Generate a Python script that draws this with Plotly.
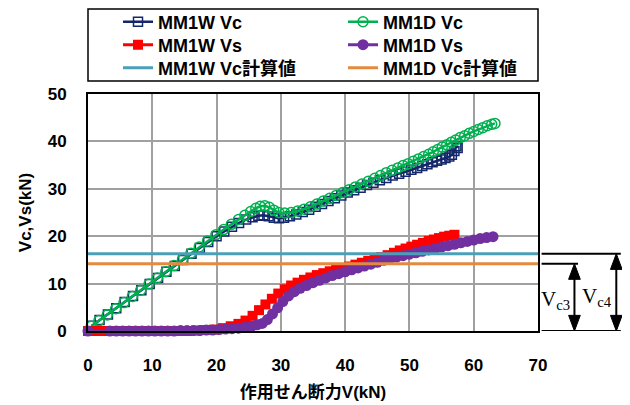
import plotly.graph_objects as go

# ---------------- data ----------------
w_vc_x = [0.6, 1.8, 3.1, 4.4, 5.7, 7.0, 8.3, 9.6, 10.9, 12.2, 13.5, 14.8, 16.1, 17.4, 18.7, 20.0,
          21.2, 22.4, 23.5, 24.6, 25.6, 26.5, 27.3, 28.1, 28.9, 29.7, 30.5, 31.4, 32.4, 33.4, 34.4,
          35.4, 36.4, 37.4, 38.4, 39.4, 40.4, 41.4, 42.4, 43.4, 44.4, 45.4, 46.4, 47.4, 48.4, 49.4,
          50.3, 51.2, 52.0, 52.8, 53.6, 54.3, 55.0, 55.6, 56.2, 56.6, 57.0, 57.3, 57.5]
w_vc_y = [1.1, 2.3, 3.5, 4.8, 6.1, 7.4, 8.6, 9.9, 11.2, 12.5, 13.7, 15.0, 16.3, 17.5, 18.8, 20.0,
          21.0, 22.0, 22.8, 23.5, 24.0, 24.3, 24.4, 24.2, 23.9, 23.8, 23.9, 24.2, 24.6, 25.1, 25.6,
          26.2, 26.8, 27.4, 28.0, 28.6, 29.2, 29.7, 30.2, 30.8, 31.3, 31.8, 32.3, 32.8, 33.2, 33.6,
          34.0, 34.4, 34.8, 35.2, 35.6, 35.9, 36.2, 36.5, 36.8, 37.2, 38.0, 39.0, 38.6]

d_vc_x = [0.5, 1.7, 3.0, 4.3, 5.6, 6.9, 8.2, 9.5, 10.8, 12.1, 13.4, 14.7, 16.0, 17.3, 18.6, 19.9,
          21.1, 22.3, 23.4, 24.4, 25.3, 26.1, 26.8, 27.5, 28.2, 28.9, 29.7, 30.6, 31.6, 32.6, 33.6,
          34.6, 35.6, 36.6, 37.6, 38.6, 39.6, 40.6, 41.6, 42.6, 43.6, 44.6, 45.5, 46.4, 47.3, 48.2,
          49.0, 49.8, 50.6, 51.4, 52.2, 53.0, 53.7, 54.4, 55.1, 55.8, 56.5, 57.2, 57.9, 58.6, 59.3,
          60.0, 60.7, 61.4, 62.1, 62.8, 63.3]
d_vc_y = [1.0, 2.2, 3.4, 4.7, 6.0, 7.3, 8.6, 9.9, 11.2, 12.5, 13.8, 15.1, 16.4, 17.7, 19.0, 20.3,
          21.4, 22.5, 23.5, 24.4, 25.2, 25.9, 26.3, 26.4, 26.1, 25.5, 25.0, 24.9, 25.0, 25.3, 25.7,
          26.2, 26.8, 27.4, 28.0, 28.6, 29.2, 29.8, 30.4, 31.0, 31.6, 32.2, 32.8, 33.4, 33.9, 34.4,
          34.9, 35.3, 35.8, 36.3, 36.8, 37.3, 37.8, 38.3, 38.8, 39.3, 39.8, 40.3, 40.8, 41.2, 41.7,
          42.1, 42.5, 42.9, 43.3, 43.6, 43.8]

w_vs_x = [0.0, 1.4, 2.8, 4.2, 5.6, 7.0, 8.4, 9.8, 11.2, 12.6, 14.0, 15.4, 16.8, 18.2, 19.6, 21.0,
          22.2, 23.4, 24.5, 25.6, 26.6, 27.6, 28.6, 29.6, 30.6, 31.6, 32.6, 33.6, 34.6, 35.6, 36.6,
          37.6, 38.6, 39.6, 40.6, 41.6, 42.6, 43.6, 44.6, 45.6, 46.6, 47.6, 48.5, 49.4, 50.3, 51.2,
          52.1, 53.0, 53.8, 54.6, 55.4, 56.2, 57.0]
w_vs_y = [0.0, 0.0, 0.0, 0.0, 0.0, 0.0, 0.0, 0.0, 0.0, 0.0, 0.0, 0.0, 0.1, 0.2, 0.3, 0.6,
          1.0, 1.5, 2.2, 3.2, 4.4, 5.6, 6.8, 7.9, 8.8, 9.6, 10.2, 10.8, 11.3, 11.8, 12.2,
          12.6, 12.9, 13.3, 13.6, 14.0, 14.4, 14.8, 15.2, 15.6, 16.0, 16.5, 17.0, 17.4, 17.8, 18.2,
          18.6, 19.0, 19.3, 19.6, 19.9, 20.1, 20.3]

d_vs_x = [0.0, 3.4, 4.4, 5.4, 6.4, 7.4, 8.4, 9.4, 10.4, 11.4, 12.4, 13.4, 14.4, 15.4, 16.4, 17.4,
          18.4, 19.4, 20.4, 21.4, 22.4, 23.4, 24.4, 25.4, 26.3, 27.1, 27.9, 28.7, 29.5, 30.3, 31.2,
          32.1, 33.0, 34.0, 35.0, 36.0, 37.0, 38.0, 39.0, 40.0, 41.0, 42.0, 43.0, 44.0, 45.0, 46.0,
          47.0, 48.0, 49.0, 50.0, 51.0, 52.0, 53.0, 54.0, 55.0, 56.0, 57.0, 58.0, 59.0, 60.0, 61.0,
          62.0, 63.0]
d_vs_y = [0.0, 0.0, 0.0, 0.0, 0.0, 0.0, 0.0, 0.0, 0.0, 0.0, 0.0, 0.0, 0.1, 0.1, 0.1, 0.1,
          0.2, 0.2, 0.3, 0.4, 0.5, 0.6, 0.8, 1.0, 1.3, 1.6, 2.4, 3.6, 4.9, 6.2, 7.4,
          8.3, 9.0, 9.6, 10.2, 10.7, 11.2, 11.7, 12.1, 12.5, 12.9, 13.3, 13.7, 14.1, 14.5, 14.9,
          15.3, 15.6, 15.9, 16.2, 16.5, 16.8, 17.1, 17.4, 17.7, 18.0, 18.3, 18.6, 18.9, 19.2, 19.5,
          19.7, 19.9]

calc_x = [0, 70]
w_calc = 16.3
d_calc = 14.2

x_ticks = [0, 10, 20, 30, 40, 50, 60, 70]
y_ticks = [0, 10, 20, 30, 40, 50]

FONT = "Liberation Sans, Noto Sans CJK JP, sans-serif"
NAVY = "#14276B"
GREEN = "#00B050"
RED = "#FF0000"
PURPLE = "#7030A0"
CYAN = "#4BA0B8"
ORANGE = "#E38A3E"

fig = go.Figure()
fig.add_trace(go.Scatter(x=w_vc_x, y=w_vc_y, name="MM1W Vc", mode="lines+markers",
                         line=dict(color=NAVY, width=2.5), legend="legend",
                         marker=dict(symbol="square-open", size=9, color=NAVY, line=dict(width=1.5)),
                         cliponaxis=False))
fig.add_trace(go.Scatter(x=d_vc_x, y=d_vc_y, name="MM1D Vc", mode="lines+markers",
                         line=dict(color=GREEN, width=2.5), legend="legend2",
                         marker=dict(symbol="circle-open", size=10, color=GREEN, line=dict(width=1.5)),
                         cliponaxis=False))
fig.add_trace(go.Scatter(x=w_vs_x, y=w_vs_y, name="MM1W Vs", mode="lines+markers",
                         line=dict(color=RED, width=3), legend="legend3",
                         marker=dict(symbol="square", size=10, color=RED),
                         cliponaxis=False))
fig.add_trace(go.Scatter(x=d_vs_x, y=d_vs_y, name="MM1D Vs", mode="lines+markers",
                         line=dict(color=PURPLE, width=3), legend="legend4",
                         marker=dict(symbol="circle", size=11, color=PURPLE),
                         cliponaxis=False))
fig.add_trace(go.Scatter(x=calc_x, y=[w_calc, w_calc], name="MM1W Vc計算値", mode="lines",
                         line=dict(color=CYAN, width=3), legend="legend5"))
fig.add_trace(go.Scatter(x=calc_x, y=[d_calc, d_calc], name="MM1D Vc計算値", mode="lines",
                         line=dict(color=ORANGE, width=3), legend="legend6"))

shapes = []
# legend frame
shapes.append(dict(type="rect", xref="paper", yref="paper", x0=0, x1=1, y0=1.0549, y1=1.3586,
                   line=dict(color="black", width=1.5), fillcolor="rgba(0,0,0,0)"))
# right-side dimension lines
for y0, xe in [(w_calc, 1.184), (d_calc, 1.089), (0, 1.184)]:
    shapes.append(dict(type="line", xref="paper", yref="y", x0=1.008, x1=xe, y0=y0, y1=y0,
                       line=dict(color="black", width=2)))
# double arrows
for xa, ytop in [(1.081, d_calc), (1.174, w_calc)]:
    shapes.append(dict(type="line", xref="paper", yref="y", x0=xa, x1=xa, y0=0.5, y1=ytop - 0.5,
                       line=dict(color="black", width=2)))
    hw = 0.013
    hh = 3.3
    shapes.append(dict(type="path", xref="paper", yref="y",
                       path=f"M {xa},{ytop} L {xa-hw},{ytop-hh} L {xa+hw},{ytop-hh} Z",
                       fillcolor="black", line=dict(color="black", width=1)))
    shapes.append(dict(type="path", xref="paper", yref="y",
                       path=f"M {xa},0 L {xa-hw},{hh} L {xa+hw},{hh} Z",
                       fillcolor="black", line=dict(color="black", width=1)))

annotations = [
    dict(text="V<sub>c3</sub>", xref="paper", yref="y", x=1.076, y=6.6, showarrow=False,
         xanchor="right", font=dict(family="Liberation Serif, serif", size=21, color="black")),
    dict(text="V<sub>c4</sub>", xref="paper", yref="y", x=1.168, y=7.2, showarrow=False,
         xanchor="right", font=dict(family="Liberation Serif, serif", size=21, color="black")),
]

LEG_FONT = dict(family=FONT, size=18, color="black", weight="bold")
row_y = [1.3038, 1.2068, 1.1097]
col_x = [0.0667, 0.5667]
legends = {}
names = ["legend", "legend2", "legend3", "legend4", "legend5", "legend6"]
for i, nm in enumerate(names):
    legends[nm] = dict(orientation="h", x=col_x[i % 2], y=row_y[i // 2], xanchor="left",
                       yanchor="middle", bgcolor="rgba(0,0,0,0)", borderwidth=0, font=LEG_FONT)

fig.update_layout(
    width=622, height=397,
    margin=dict(l=80, r=92, t=86, b=74, autoexpand=False),
    paper_bgcolor="white", plot_bgcolor="white",
    font=dict(family=FONT, color="black", size=16),
    shapes=shapes, annotations=annotations,
    showlegend=True,
    **legends,
)
fig.update_xaxes(range=[0, 70], tickvals=x_ticks, showgrid=True, gridcolor="#A0A0A0", gridwidth=1.5,
                 showline=True, linecolor="black", linewidth=2, mirror=True, zeroline=False,
                 ticks="", ticklabelstandoff=18,
                 tickfont=dict(family=FONT, size=17, weight="bold"),
                 title=dict(text="作用せん断力V(kN)", standoff=12,
                            font=dict(family=FONT, size=17, weight="bold")))
fig.update_yaxes(range=[0, 50], tickvals=y_ticks, showgrid=True, gridcolor="#A0A0A0", gridwidth=1.5,
                 showline=True, linecolor="black", linewidth=2, mirror=True, zeroline=False,
                 ticks="", ticklabelstandoff=16,
                 tickfont=dict(family=FONT, size=17, weight="bold"),
                 title=dict(text="Vc,Vs(kN)", standoff=12,
                            font=dict(family=FONT, size=17, weight="bold")))

fig.write_html("out.html")
